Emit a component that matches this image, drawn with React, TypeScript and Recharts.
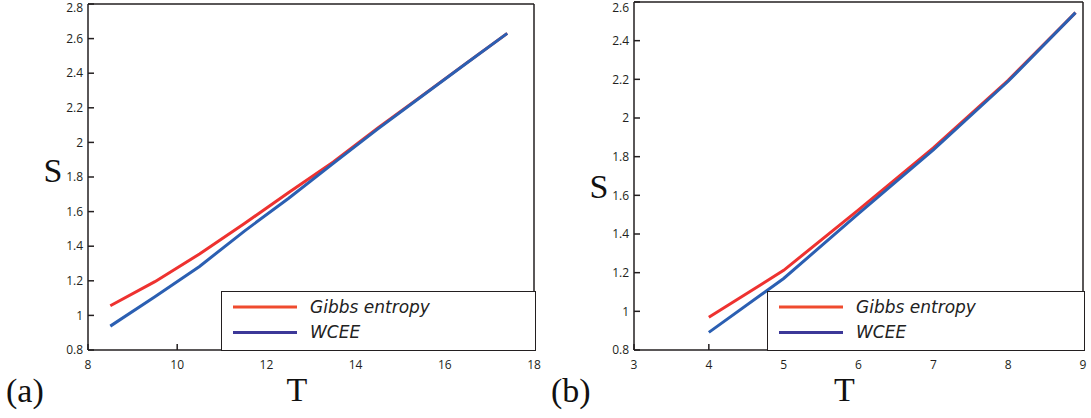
import React from 'react';
import { LineChart, Line, XAxis, YAxis, Legend } from 'recharts';

// panel (a)
const leftT = [8.5, 9.5, 10.5, 11.5, 12.5, 13.5, 14.5, 15.5, 16.5, 17.4];
const leftGibbs = [1.056, 1.195, 1.355, 1.53, 1.71, 1.887, 2.084, 2.272, 2.461, 2.63];
const leftWcee = [0.938, 1.108, 1.283, 1.486, 1.677, 1.879, 2.078, 2.27, 2.46, 2.63];
const leftXTicks = [8, 10, 12, 14, 16, 18];
const leftYTicks = [0.8, 1, 1.2, 1.4, 1.6, 1.8, 2, 2.2, 2.4, 2.6, 2.8];

// panel (b)
const rightT = [4, 5, 6, 7, 8, 8.9];
const rightGibbs = [0.969, 1.212, 1.525, 1.845, 2.195, 2.545];
const rightWcee = [0.891, 1.17, 1.505, 1.835, 2.19, 2.545];
const rightXTicks = [3, 4, 5, 6, 7, 8, 9];
const rightYTicks = [0.8, 1, 1.2, 1.4, 1.6, 1.8, 2, 2.2, 2.4, 2.6];

const seriesNames = { gibbs: 'Gibbs entropy', wcee: 'WCEE' };
const lineColors = { gibbs: '#ee3230', wcee: '#2b5fb2' };
const legendColors: Record<string, string> = { gibbs: '#ef4b2e', wcee: '#3c3898' };

const AXIS = '#231f20';
const TICK_FONT = '"Open Sans", sans-serif';
const SERIF = '"Liberation Serif", serif';
const tickStyle = { fontSize: 12, fontFamily: TICK_FONT, fill: AXIS };

const leftData = leftT.map((t, i) => ({ T: t, gibbs: leftGibbs[i], wcee: leftWcee[i] }));
const rightData = rightT.map((t, i) => ({ T: t, gibbs: rightGibbs[i], wcee: rightWcee[i] }));

const LegendBox = (props: any) => {
  const items = props.payload || [];
  return (
    <div style={{ width: '100%', height: '100%', boxSizing: 'border-box', border: `1.5px solid ${AXIS}`, background: '#fff' }}>
      <svg width={313} height={57} style={{ display: 'block' }}>
        {items.map((it: any, i: number) => (
          <g key={it.value}>
            <line x1={11} x2={75} y1={15 + i * 25.5} y2={15 + i * 25.5} stroke={legendColors[it.dataKey]} strokeWidth={3} />
            <text x={88} y={21 + i * 24.5} fontSize={17} fontStyle='italic' fontFamily='"DejaVu Sans", sans-serif' fill='#222'>
              {it.value}
            </text>
          </g>
        ))}
      </svg>
    </div>
  );
};

interface PanelProps {
  data: any[];
  xDomain: number[];
  yDomain: number[];
  xTicks: number[];
  yTicks: number[];
  width: number;
  margin: any;
  sDy: number;
  legendLeft: number;
}

const Panel: React.FC<PanelProps> = ({ data, xDomain, yDomain, xTicks, yTicks, width, margin, sDy, legendLeft }) => {
  const plotBottom = 418 - margin.bottom - 30;
  return (
    <LineChart width={width} height={418} data={data} margin={margin}>
      <XAxis
        dataKey='T'
        type='number'
        domain={xDomain}
        ticks={xTicks}
        allowDataOverflow
        height={30}
        tickSize={-6}
        tickMargin={16}
        tick={tickStyle}
        tickLine={{ stroke: AXIS, strokeWidth: 1.5 }}
        axisLine={{ stroke: AXIS, strokeWidth: 1.5 }}
        stroke={AXIS}
        label={{
          value: 'T',
          content: (p: any) => (
            <text x={p.viewBox.x + p.viewBox.width / 2 - 14} y={p.viewBox.y + 51} textAnchor='middle' fontSize={34} fontFamily={SERIF} fill='#111'>
              T
            </text>
          ),
        }}
      />
      <XAxis
        xAxisId='top'
        orientation='top'
        dataKey='T'
        type='number'
        domain={xDomain}
        ticks={xTicks}
        allowDataOverflow
        height={1}
        tickSize={-6}
        tick={false}
        tickLine={{ stroke: AXIS, strokeWidth: 1.5 }}
        axisLine={{ stroke: AXIS, strokeWidth: 1.5 }}
        stroke={AXIS}
      />
      <YAxis
        type='number'
        domain={yDomain}
        ticks={yTicks}
        allowDataOverflow
        width={40}
        tickSize={-6}
        tickMargin={11}
        tick={tickStyle}
        tickLine={{ stroke: AXIS, strokeWidth: 1.5 }}
        axisLine={{ stroke: AXIS, strokeWidth: 1.5 }}
        stroke={AXIS}
        label={{
          value: 'S',
          content: (p: any) => (
            <text x={p.viewBox.x + p.viewBox.width - 35} y={p.viewBox.y + p.viewBox.height / 2 + sDy} textAnchor='middle' fontSize={34} fontFamily={SERIF} fill='#111'>
              S
            </text>
          ),
        }}
      />
      <YAxis
        yAxisId='right'
        orientation='right'
        type='number'
        domain={yDomain}
        ticks={yTicks}
        allowDataOverflow
        width={1}
        tickSize={-6}
        tick={false}
        tickLine={{ stroke: AXIS, strokeWidth: 1.5 }}
        axisLine={{ stroke: AXIS, strokeWidth: 1.5 }}
        stroke={AXIS}
      />
      <Line type='linear' dataKey='gibbs' name={seriesNames.gibbs} stroke={lineColors.gibbs} strokeWidth={3} dot={false} isAnimationActive={false} />
      <Line type='linear' dataKey='wcee' name={seriesNames.wcee} stroke={lineColors.wcee} strokeWidth={3} dot={false} isAnimationActive={false} />
      <Legend
        layout='vertical'
        verticalAlign='middle'
        align='center'
        content={LegendBox}
        wrapperStyle={{ left: legendLeft, top: plotBottom - 59, width: width - margin.right - legendLeft + 1, height: 60 }}
      />
    </LineChart>
  );
};

export default function App() {
  return (
    <div style={{ position: 'absolute', left: 0, top: 0, width: 1091, height: 418, background: '#fff' }}>
      <div style={{ position: 'absolute', left: 0, top: 0 }}>
        <Panel
          data={leftData}
          xDomain={[8, 18]}
          yDomain={[0.8, 2.8]}
          xTicks={leftXTicks}
          yTicks={leftYTicks}
          width={545}
          margin={{ top: 3, right: 10, left: 48, bottom: 38 }}
          sDy={5}
          legendLeft={221}
        />
      </div>
      <div style={{ position: 'absolute', left: 545, top: 0 }}>
        <Panel
          data={rightData}
          xDomain={[3, 9]}
          yDomain={[0.8, 2.6]}
          xTicks={rightXTicks}
          yTicks={rightYTicks}
          width={546}
          margin={{ top: 1, right: 7, left: 49, bottom: 38 }}
          sDy={22}
          legendLeft={222}
        />
      </div>
      <svg width={1091} height={418} style={{ position: 'absolute', left: 0, top: 0, pointerEvents: 'none' }}>
        <text x={6} y={402} fontSize={34} fontFamily={SERIF} fill='#111'>(a)</text>
        <text x={551} y={402} fontSize={34} fontFamily={SERIF} fill='#111'>(b)</text>
      </svg>
    </div>
  );
}
